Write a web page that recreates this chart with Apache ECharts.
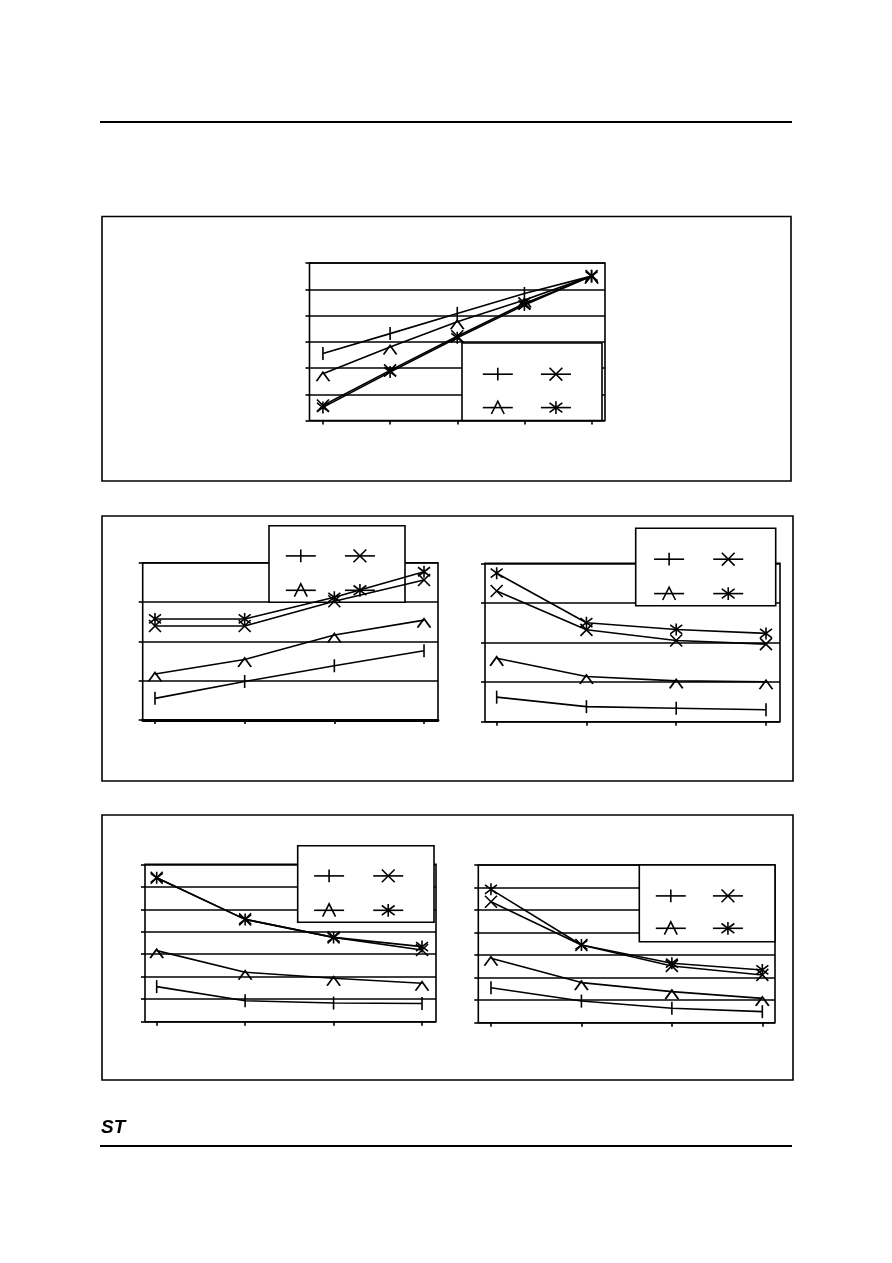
<!DOCTYPE html>
<html>
<head>
<meta charset="utf-8">
<script src="https://cdn.jsdelivr.net/npm/echarts@6/dist/echarts.min.js"></script>
<style>
  html, body { margin: 0; padding: 0; background: #fff; }
  #main { width: 892px; height: 1263px; }
</style>
</head>
<body>
<div id="main"></div>
<script>
// x positions (points per chart)
const xFive = [0, 1, 2, 3, 4]
const xFour = [0, 1, 2, 3]

// chart 1 (top, 5 points)
const c1Plus = [2.55, 3.31, 4.08, 4.84, 5.5]
const c1Cross = [0.57, 1.91, 3.21, 4.46, 5.5]
const c1Tri = [1.78, 2.80, 3.76, 4.59, 5.5]
const c1Star = [0.50, 1.85, 3.15, 4.40, 5.5]

// chart 2 (middle left)
const c2Plus = [0.55, 0.98, 1.38, 1.76]
const c2Cross = [2.39, 2.39, 3.02, 3.56]
const c2Tri = [1.17, 1.54, 2.16, 2.54]
const c2Star = [2.57, 2.57, 3.12, 3.77]

// chart 3 (middle right)
const c3Plus = [0.62, 0.38, 0.34, 0.30]
const c3Cross = [3.30, 2.32, 2.05, 1.96]
const c3Tri = [1.60, 1.14, 1.03, 1.01]
const c3Star = [3.75, 2.50, 2.33, 2.23]

// chart 4 (bottom left)
const c4Plus = [1.56, 0.93, 0.83, 0.81]
const c4Cross = [6.40, 4.55, 3.75, 3.19]
const c4Tri = [3.16, 2.20, 1.93, 1.71]
const c4Star = [6.40, 4.55, 3.75, 3.34]

// chart 5 (bottom right)
const c5Plus = [1.55, 0.96, 0.64, 0.49]
const c5Cross = [5.37, 3.45, 2.52, 2.12]
const c5Tri = [2.86, 1.78, 1.38, 1.08]
const c5Star = [5.92, 3.45, 2.64, 2.34]

// marker styles, legend order: plus, cross / tri, star
const marks = [
    { name: 'A', symbol: 'path://M0,6L0,6M12,6L12,6M6,0L6,12', size: 13, offset: [0, 0] },
    { name: 'B', symbol: 'path://M0,0L12,12M12,0L0,12', size: 12, offset: [0, 0] },
    { name: 'C', symbol: 'path://M0,8L6,0L12,8', size: [13, 9], offset: [0, 3] },
    { name: 'D', symbol: 'path://M0,0L12,12M12,0L0,12M6,-2L6,14', size: 12, offset: [0, 0] }
]

const LW = 1.6

// layout of each chart: plot rect, x range, y max, legend box, first legend marker, gaps
const charts = [
    { xs: xFive, ys: [c1Plus, c1Cross, c1Tri, c1Star], yMax: 6, xMin: -0.2, xMax: 4.2,
      grid: { left: 309.5, top: 263, width: 295.5, height: 157.5 },
      box: [462, 343, 602, 420.5], first: [497, 375], col: 70, row: 35 },
    { xs: xFour, ys: [c2Plus, c2Cross, c2Tri, c2Star], yMax: 4, xMin: -0.137, xMax: 3.156,
      grid: { left: 142.7, top: 562.7, width: 295.3, height: 157.3 }, axisWidth: 2.8,
      box: [269, 525.7, 405, 602.3], first: [300, 556.7], col: 73, row: 36 },
    { xs: xFour, ys: [c3Plus, c3Cross, c3Tri, c3Star], yMax: 4, xMin: -0.13, xMax: 3.156,
      grid: { left: 485, top: 563.3, width: 295, height: 158.4 },
      box: [635.7, 528.3, 775.7, 605.7], first: [668.3, 560], col: 73.4, row: 36 },
    { xs: xFour, ys: [c4Plus, c4Cross, c4Tri, c4Star], yMax: 7, xMin: -0.132, xMax: 3.158,
      grid: { left: 145, top: 864.3, width: 291, height: 157.4 },
      box: [297.7, 845.7, 434, 922.3], first: [328.3, 876.7], col: 73.4, row: 36 },
    { xs: xFour, ys: [c5Plus, c5Cross, c5Tri, c5Star], yMax: 7, xMin: -0.14, xMax: 3.14,
      grid: { left: 478.3, top: 865, width: 296.7, height: 157.7 },
      box: [639.3, 865, 775, 941.7], first: [670, 896.7], col: 73.3, row: 34 }
]

const grid = []
const xAxis = []
const yAxis = []
const series = []
const legend = []
const graphic = []

charts.forEach((c, i) => {
    grid.push(Object.assign({ show: true, borderColor: '#000', borderWidth: LW }, c.grid))
    xAxis.push({
        type: 'value',
        gridIndex: i,
        min: c.xMin,
        max: c.xMax,
        axisLine: { show: !!c.axisWidth, onZero: false, lineStyle: { color: '#000', width: c.axisWidth || 1 } },
        axisTick: { show: true, customValues: c.xs, length: 4, lineStyle: { color: '#000', width: LW } },
        axisLabel: { show: false },
        splitLine: { show: false }
    })
    yAxis.push({
        type: 'value',
        gridIndex: i,
        min: 0,
        max: c.yMax,
        interval: 1,
        axisLine: { show: false, onZero: false },
        axisTick: { show: true, length: 4, lineStyle: { color: '#000', width: LW } },
        axisLabel: { show: false },
        splitLine: { show: true, lineStyle: { color: '#000', width: LW } }
    })
    marks.forEach((m, k) => {
        series.push({
            type: 'line',
            name: m.name,
            xAxisIndex: i,
            yAxisIndex: i,
            data: c.xs.map((x, j) => [x, c.ys[k][j]]),
            symbol: m.symbol,
            symbolSize: m.size,
            symbolOffset: m.offset,
            itemStyle: { color: 'transparent', borderColor: '#000', borderWidth: LW },
            lineStyle: { color: '#000', width: LW },
            emphasis: { disabled: true },
            silent: true
        })
    })

    // legend box and items
    const [x0, y0, x1, y1] = c.box
    graphic.push({
        type: 'rect',
        z: 3,
        shape: { x: x0, y: y0, width: x1 - x0, height: y1 - y0 },
        style: { fill: '#fff', stroke: '#000', lineWidth: LW }
    })
    const gap = c.row - 16
    const textW = c.col - 35 - gap
    legend.push({
        left: c.first[0] - 15,
        top: c.first[1] - 8,
        width: c.col + 35 + textW + 4,
        padding: 0,
        orient: 'horizontal',
        itemWidth: 30,
        itemHeight: 16,
        itemGap: gap,
        selectedMode: false,
        data: marks.map(m => m.name),
        formatter: () => '{w| }',
        textStyle: { rich: { w: { width: textW, height: 16 } } },
        itemStyle: { color: 'transparent', borderColor: '#000', borderWidth: LW },
        lineStyle: { color: '#000', width: LW },
        z: 5
    })
})

// page frame: rules, boxes, logo
graphic.push(
    { type: 'line', z: 0, shape: { x1: 100, y1: 122, x2: 792, y2: 122 }, style: { stroke: '#000', lineWidth: 1.8 } },
    { type: 'line', z: 0, shape: { x1: 100, y1: 1146, x2: 792, y2: 1146 }, style: { stroke: '#000', lineWidth: 1.8 } },
    { type: 'rect', z: 0, shape: { x: 102, y: 216.5, width: 689, height: 264.5 }, style: { fill: 'none', stroke: '#000', lineWidth: LW } },
    { type: 'rect', z: 0, shape: { x: 102, y: 516, width: 691, height: 265 }, style: { fill: 'none', stroke: '#000', lineWidth: LW } },
    { type: 'rect', z: 0, shape: { x: 102, y: 815, width: 691, height: 265 }, style: { fill: 'none', stroke: '#000', lineWidth: LW } },
    { type: 'text', z: 0, left: 101, top: 1118, style: { text: 'ST', fill: '#000', font: 'italic bold 19px "Liberation Sans"' } }
)

const myChart = echarts.init(document.querySelector('#main'), null, { renderer: 'canvas' })
myChart.setOption({
    animation: false,
    backgroundColor: '#fff',
    grid,
    xAxis,
    yAxis,
    legend,
    graphic,
    series
})
</script>
</body>
</html>
